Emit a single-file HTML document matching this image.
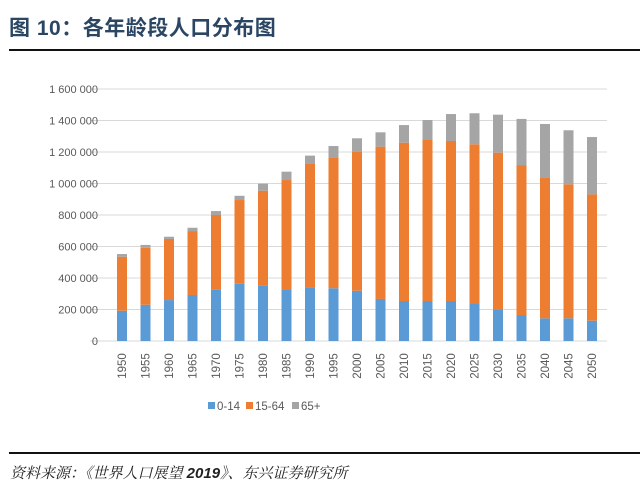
<!DOCTYPE html>
<html><head><meta charset="utf-8"><style>
body{margin:0;background:#fff;width:640px;height:497px;overflow:hidden;position:relative;font-family:"Liberation Sans","Noto Sans CJK SC",sans-serif}
#title{position:absolute;left:9px;top:12px;font-size:21px;font-weight:bold;color:#2a4663;letter-spacing:0.5px}
.rule{position:absolute;left:9px;width:631px;height:2px;background:#111}
#src{position:absolute;left:10px;top:462px;font-size:15px;font-style:italic;color:#222;font-family:"Liberation Sans","Noto Serif CJK SC",serif}
</style></head><body>
<div id="title">图 10：各年龄段人口分布图</div>
<div class="rule" style="top:49px"></div>
<svg id="chart" width="640" height="497" style="position:absolute;left:0;top:0"></svg>
<div class="rule" style="top:452px"></div>
<div id="src">资料来源：《世界人口展望 <b>2019</b>》、东兴证券研究所</div>
<script>
const years=[1950,1955,1960,1965,1970,1975,1980,1985,1990,1995,2000,2005,2010,2015,2020,2025,2030,2035,2040,2045,2050];
const age0to14=[192,230,260,292,326,364,354,324,339,335,319,267,254,254,254,235,197,165,144,144,129];
const age15to64=[343,362,388,406,474,531,600,698,785,831,883,967,1005,1026,1016,1014,999,952,895,851,802];
const age65plus=[17,18,14,21,25,27,45,53,53,72,85,91,112,123,171,197,241,293,339,343,364];
const yTicks=[0,200000,400000,600000,800000,1000000,1200000,1400000,1600000];
const yTickLabels=["0","200 000","400 000","600 000","800 000","1 000 000","1 200 000","1 400 000","1 600 000"];
const seriesNames=["0-14","15-64","65+"];
const colors=["#5b9bd5","#ed7d31","#a5a5a5"];
const svg=document.getElementById('chart');const NS="http://www.w3.org/2000/svg";
const y0=341,yTop=89,vMax=1600;
const yScale=v=>y0-(v/vMax)*(y0-yTop);
const xScale=i=>122+i*23.5;
function mk(t,a){const e=document.createElementNS(NS,t);for(const k in a)e.setAttribute(k,a[k]);svg.appendChild(e);return e;}
yTicks.forEach((t,i)=>{const y=yScale(t/1000);
 const g=mk('line',{x1:90,x2:607,y1:y,y2:y,stroke:'#d9d9d9','stroke-width':1});
 
 
 const tx=mk('text',{x:98,y:y+4,'text-anchor':'end','font-size':11,fill:'#595959','font-family':'Liberation Sans'});
 tx.textContent=yTickLabels[i];
 
 
});
const series=[age0to14,age15to64,age65plus];
years.forEach((yr,i)=>{let base=0;const cx=xScale(i);
 series.forEach((s,k)=>{const top=base+s[i];
  const r=mk('rect',{x:cx-5,width:10,y:yScale(top),height:yScale(base)-yScale(top),fill:colors[k]});
  
  
  base=top;});
 const t=mk('text',{x:0,y:0,'font-size':11.5,fill:'#595959','text-anchor':'middle','font-family':'Liberation Sans',transform:`translate(${cx+4},366) rotate(-90)`});
 t.textContent=yr;
 
 
});
let lx=208;
seriesNames.forEach((n,k)=>{
 const r=mk('rect',{x:lx,y:402,width:7,height:7,fill:colors[k]});
 
 
 const t=mk('text',{x:lx+9,y:410,'font-size':11.5,fill:'#595959','font-family':'Liberation Sans'});
 t.textContent=n;
 
 
 lx+= [38,46,40][k];
});
</script>
</body></html>
